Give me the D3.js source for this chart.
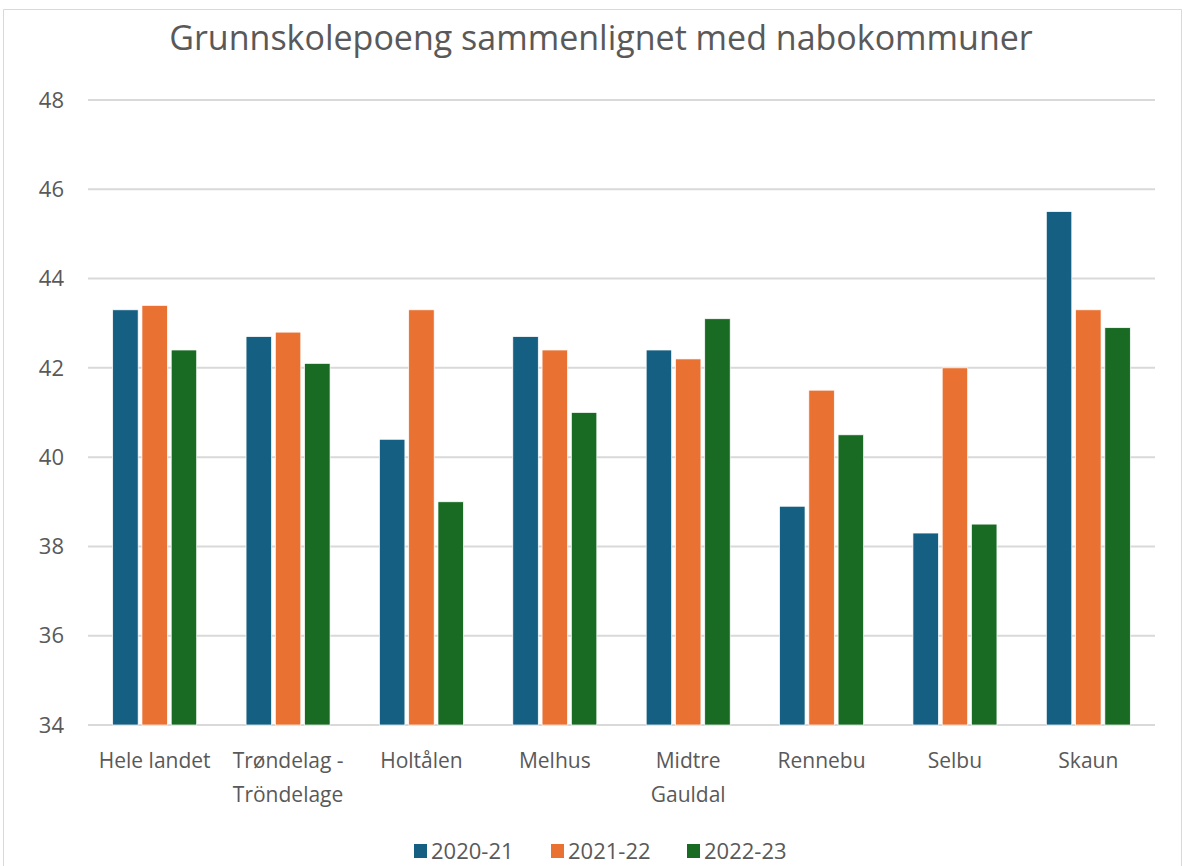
<!DOCTYPE html>
<html>
<head>
<meta charset="utf-8">
<script src="https://cdn.jsdelivr.net/npm/d3@7"></script>
<style>
  html, body { margin: 0; padding: 0; background: #fff; }
  svg { display: block; }
  text { font-family: "Open Sans", sans-serif; fill: #595959; }
</style>
</head>
<body>
<div id="chart"></div>
<script>
// Data
var categories = ["Hele landet", "Trøndelag - Tröndelage", "Holtålen", "Melhus", "Midtre Gauldal", "Rennebu", "Selbu", "Skaun"];
var categoryLines = [["Hele landet"], ["Trøndelag -", "Tröndelage"], ["Holtålen"], ["Melhus"], ["Midtre", "Gauldal"], ["Rennebu"], ["Selbu"], ["Skaun"]];
var seriesNames = ["2020-21", "2021-22", "2022-23"];
var values2020 = [43.3, 42.7, 40.4, 42.7, 42.4, 38.9, 38.3, 45.5];
var values2021 = [43.4, 42.8, 43.3, 42.4, 42.2, 41.5, 42.0, 43.3];
var values2022 = [42.4, 42.1, 39.0, 41.0, 43.1, 40.5, 38.5, 42.9];
var yTicks = [34, 36, 38, 40, 42, 44, 46, 48];
var colors = ["#156082", "#E97132", "#196B24"];

var width = 1186;
var height = 866;
var margin = { top: 100, right: 31, bottom: 141, left: 88 };
var innerWidth = width - margin.left - margin.right;
var innerHeight = height - margin.top - margin.bottom;

var svg = d3.select("#chart")
  .append("svg")
  .attr("width", width)
  .attr("height", height);

// Outer chart border (top, left, right only; bottom is below the picture)
svg.append("path")
  .attr("d", "M3.5," + height + "V9.5H" + (width - 4.5) + "V" + height)
  .attr("fill", "none")
  .attr("stroke", "#d9d9d9")
  .attr("stroke-width", 1);

// Title
svg.append("text")
  .attr("x", 601)
  .attr("y", 50)
  .attr("text-anchor", "middle")
  .attr("font-size", 34)
  .text("Grunnskolepoeng sammenlignet med nabokommuner");

var chartGroup = svg.append("g")
  .attr("transform", "translate(" + margin.left + "," + margin.top + ")");

var xScale = d3.scaleBand()
  .domain(categories)
  .range([0, innerWidth]);

var xInner = d3.scaleBand()
  .domain(seriesNames)
  .range([0, 84])
  .paddingInner(0.13);

var yScale = d3.scaleLinear()
  .domain([34, 48])
  .range([innerHeight, 0]);

// Gridlines
chartGroup.append("g")
  .selectAll("line")
  .data(yTicks)
  .join("line")
  .attr("x1", 0)
  .attr("x2", innerWidth)
  .attr("y1", function (d) { return yScale(d); })
  .attr("y2", function (d) { return yScale(d); })
  .attr("stroke", "#d9d9d9")
  .attr("stroke-width", 2);

// Y labels
chartGroup.append("g")
  .selectAll("text")
  .data(yTicks)
  .join("text")
  .attr("x", -24)
  .attr("y", function (d) { return yScale(d); })
  .attr("dy", "0.35em")
  .attr("text-anchor", "end")
  .attr("font-size", 22)
  .text(function (d) { return d; });

// Bars
var allSeries = [values2020, values2021, values2022];
var rows = [];
categories.forEach(function (c, i) {
  seriesNames.forEach(function (s, j) {
    rows.push({ category: c, series: s, value: allSeries[j][i], color: colors[j] });
  });
});

var groupOffset = (xScale.bandwidth() - 84) / 2;

chartGroup.append("g")
  .selectAll("rect")
  .data(rows)
  .join("rect")
  .attr("x", function (d) { return xScale(d.category) + groupOffset + xInner(d.series); })
  .attr("y", function (d) { return yScale(d.value); })
  .attr("width", xInner.bandwidth())
  .attr("height", function (d) { return innerHeight - yScale(d.value); })
  .attr("fill", function (d) { return d.color; })
  .attr("stroke", "#fff")
  .attr("stroke-width", 0.7);

// X labels
var xLabels = chartGroup.append("g")
  .selectAll("text")
  .data(categories)
  .join("text")
  .attr("text-anchor", "middle")
  .attr("font-size", 21)
  .attr("transform", function (d) {
    return "translate(" + (xScale(d) + xScale.bandwidth() / 2) + "," + (innerHeight + 43) + ")";
  });

xLabels.each(function (d, i) {
  d3.select(this).selectAll("tspan")
    .data(categoryLines[i])
    .join("tspan")
    .attr("x", 0)
    .attr("dy", function (t, k) { return k === 0 ? 0 : 34; })
    .text(function (t) { return t; });
});

// Legend
var legendItems = [
  { name: seriesNames[0], color: colors[0], x: 414 },
  { name: seriesNames[1], color: colors[1], x: 551 },
  { name: seriesNames[2], color: colors[2], x: 687 }
];

var legend = svg.append("g")
  .selectAll("g")
  .data(legendItems)
  .join("g")
  .attr("transform", function (d) { return "translate(" + d.x + ",851)"; });

legend.append("rect")
  .attr("x", 0)
  .attr("y", -7)
  .attr("width", 13)
  .attr("height", 14)
  .attr("fill", function (d) { return d.color; });

legend.append("text")
  .attr("x", 17)
  .attr("dy", "0.35em")
  .attr("font-size", 22)
  .text(function (d) { return d.name; });
</script>
</body>
</html>
